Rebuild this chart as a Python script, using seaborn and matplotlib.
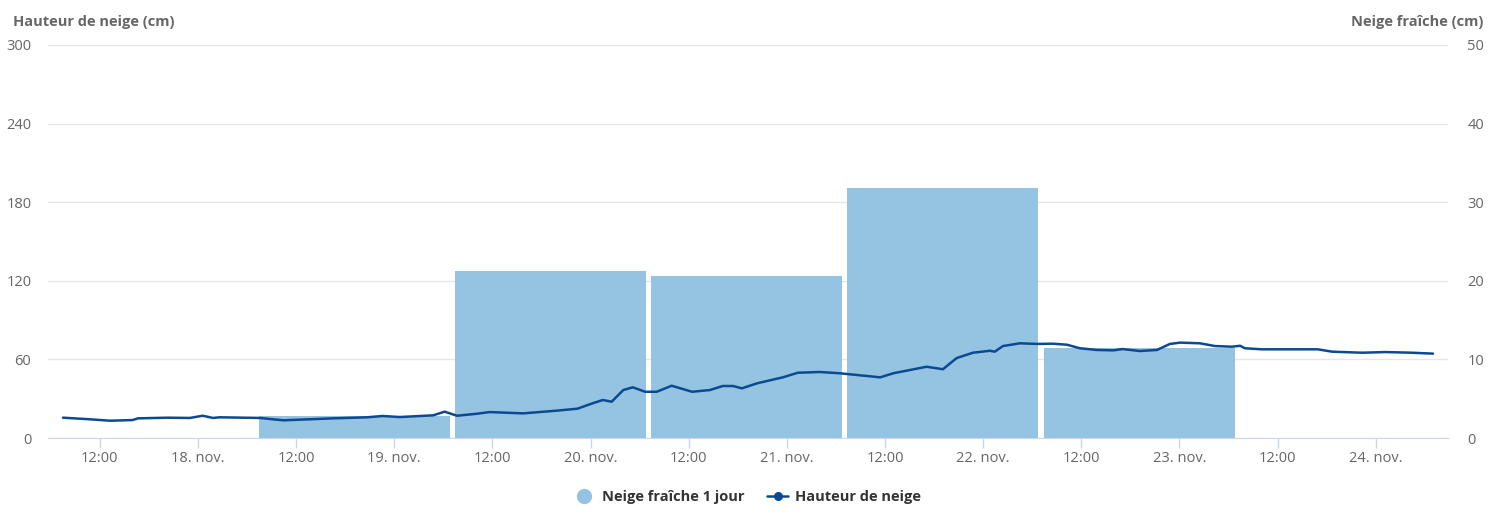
import pandas as pd
import seaborn as sns
import matplotlib.pyplot as plt
import matplotlib.dates as mdates
from matplotlib.lines import Line2D

# hauteur de neige (cm), relevés
depth_times = [
    "2023-11-17 07:30", "2023-11-17 10:45", "2023-11-17 13:15", "2023-11-17 16:00",
    "2023-11-17 16:40", "2023-11-17 20:15", "2023-11-17 23:00", "2023-11-18 00:35",
    "2023-11-18 01:50", "2023-11-18 02:40", "2023-11-18 07:35", "2023-11-18 10:25",
    "2023-11-18 13:40", "2023-11-18 16:30", "2023-11-18 20:40", "2023-11-18 22:35",
    "2023-11-19 00:40", "2023-11-19 04:45", "2023-11-19 06:10", "2023-11-19 07:40",
    "2023-11-19 10:05", "2023-11-19 11:40", "2023-11-19 15:45", "2023-11-19 19:55",
    "2023-11-19 22:25", "2023-11-20 00:15", "2023-11-20 01:30", "2023-11-20 02:35",
    "2023-11-20 04:00", "2023-11-20 05:10", "2023-11-20 06:40", "2023-11-20 08:05",
    "2023-11-20 09:55", "2023-11-20 12:25", "2023-11-20 14:35", "2023-11-20 16:10",
    "2023-11-20 17:25", "2023-11-20 18:30", "2023-11-20 20:20", "2023-11-20 23:30",
    "2023-11-21 01:20", "2023-11-21 04:00", "2023-11-21 06:30", "2023-11-21 11:25",
    "2023-11-21 13:00", "2023-11-21 17:05", "2023-11-21 19:05", "2023-11-21 20:45",
    "2023-11-21 22:45", "2023-11-22 00:50", "2023-11-22 01:25", "2023-11-22 02:25",
    "2023-11-22 04:30", "2023-11-22 06:35", "2023-11-22 08:30", "2023-11-22 10:15",
    "2023-11-22 11:50", "2023-11-22 13:55", "2023-11-22 15:55", "2023-11-22 17:00",
    "2023-11-22 19:10", "2023-11-22 21:15", "2023-11-22 22:50", "2023-11-23 00:05",
    "2023-11-23 02:30", "2023-11-23 04:20", "2023-11-23 06:25", "2023-11-23 07:25",
    "2023-11-23 08:00", "2023-11-23 10:05", "2023-11-23 14:05", "2023-11-23 16:55",
    "2023-11-23 18:40", "2023-11-23 22:20", "2023-11-24 01:10", "2023-11-24 04:25",
    "2023-11-24 07:00",
]
depth_cm = [
    15.5, 14.3, 13.2, 13.7,
    15.0, 15.5, 15.3, 17.0,
    15.3, 15.8, 15.3, 13.5,
    14.3, 15.0, 15.8, 16.8,
    16.0, 17.3, 20.1, 17.0,
    18.5, 19.8, 18.8, 20.9,
    22.4, 26.5, 29.0, 27.7,
    36.6, 38.7, 35.3, 35.3,
    39.9, 35.3, 36.6, 39.7,
    39.7, 37.9, 41.7, 46.3,
    49.8, 50.4, 49.4, 46.3,
    49.4, 54.4, 52.5, 61.0,
    65.1, 66.6, 65.9, 70.2,
    72.3, 71.8, 72.0, 71.2,
    68.5, 67.2, 66.9, 67.9,
    66.4, 67.2, 71.8, 72.8,
    72.3, 70.2, 69.7, 70.4,
    68.5, 67.7, 67.7, 67.7,
    65.9, 65.1, 65.6, 65.1,
    64.4,
]

# neige fraîche 1 jour (cm)
fresh_dates = ["2023-11-18 19:05", "2023-11-19 19:05", "2023-11-20 19:05",
               "2023-11-21 19:05", "2023-11-22 19:05"]
fresh_cm = [2.8, 21.2, 20.6, 31.8, 11.4]

df = pd.DataFrame({"temps": pd.to_datetime(depth_times), "hauteur": depth_cm})
bars = pd.DataFrame({"date": pd.to_datetime(fresh_dates), "fraiche": fresh_cm})

BAR_COL = "#95c4e3"
LINE_COL = "#0b4a92"
TXT = "#666666"

sns.set_style("white")
plt.rcParams["font.family"] = ["Open Sans", "DejaVu Sans"]

fig = plt.figure(figsize=(14.95, 5.28), dpi=100)
ax = fig.add_axes([48 / 1495, 1 - 438 / 528, 1400 / 1495, 393 / 528])
ax2 = ax.twinx()

# barres sur l'axe droit, dessinées derrière la courbe
ax2.bar(bars["date"], bars["fraiche"], width=0.973, color=BAR_COL, linewidth=0)
ax2.set_ylim(0, 50)
ax2.set_yticks(range(0, 51, 10))
ax2.yaxis.grid(True, color="#e6e6e6", linewidth=1)
ax2.set_axisbelow(True)

sns.lineplot(data=df, x="temps", y="hauteur", ax=ax, color=LINE_COL, linewidth=1.8)
ax.set_ylim(0, 300)
ax.set_yticks(range(0, 301, 60))
ax.set_zorder(ax2.get_zorder() + 1)
ax.patch.set_visible(False)

ax.set_xlim(pd.Timestamp("2023-11-17 05:40"), pd.Timestamp("2023-11-24 08:50"))
ax.xaxis.set_major_locator(mdates.HourLocator(byhour=[0, 12]))


def fmt(x, pos):
    d = mdates.num2date(x)
    if d.hour == 0:
        return f"{d.day}. nov."
    return "12:00"


ax.xaxis.set_major_formatter(plt.FuncFormatter(fmt))
ax.set_xlabel("")
ax.set_ylabel("")
ax2.set_ylabel("")

for a in (ax, ax2):
    for s in a.spines.values():
        s.set_visible(False)
ax.spines["bottom"].set_visible(True)
ax.spines["bottom"].set_color("#ccd6eb")

ax.tick_params(axis="x", length=7, width=1, color="#ccd6eb", labelcolor=TXT,
               labelsize=10.5, pad=2, bottom=True)
ax.tick_params(axis="y", length=0, labelcolor=TXT, labelsize=10.5, pad=12)
ax2.tick_params(axis="y", length=0, labelcolor=TXT, labelsize=10.5, pad=14)

fig.text(13 / 1495, 1 - 22 / 528, "Hauteur de neige (cm)", color=TXT,
         fontsize=10.5, fontweight="bold", ha="left", va="center")
fig.text(1483 / 1495, 1 - 22 / 528, "Neige fraîche (cm)", color=TXT,
         fontsize=10.5, fontweight="bold", ha="right", va="center")

handles = [
    Line2D([], [], linestyle="none", marker="o", markersize=10, color=BAR_COL),
    Line2D([], [], color=LINE_COL, linewidth=1.8, marker="o", markersize=5.5),
]
leg = fig.legend(handles, ["Neige fraîche 1 jour", "Hauteur de neige"],
                 loc="center", bbox_to_anchor=(0.5, 1 - 497 / 528), ncol=2,
                 frameon=False, handlelength=1.4, handletextpad=0.5,
                 columnspacing=1.6, prop={"weight": "bold", "size": 10.5})
for t in leg.get_texts():
    t.set_color("#333333")

fig.savefig("out.png", dpi=100)
